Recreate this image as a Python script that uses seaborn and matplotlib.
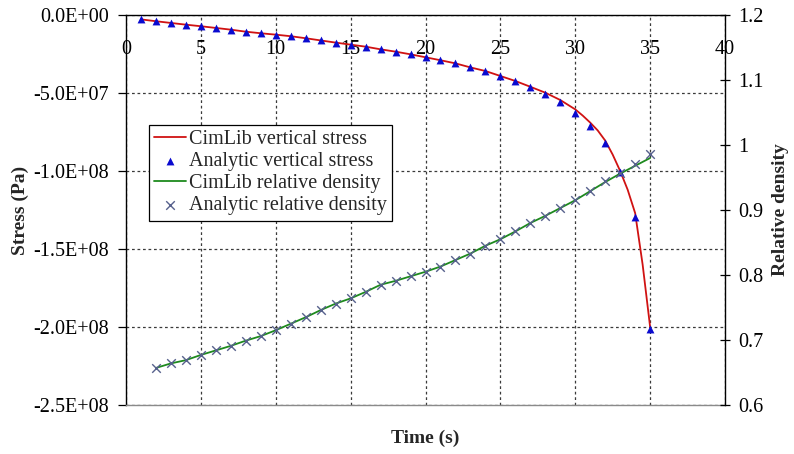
import matplotlib
matplotlib.use("Agg")
import matplotlib.pyplot as plt
import seaborn as sns
import pandas as pd
from matplotlib.ticker import FixedLocator, FuncFormatter

# ---------------- data ----------------
time_stress = [1, 2, 3, 4, 5, 6, 7, 8, 9, 10, 11, 12, 13, 14, 15, 16, 17, 18,
               19, 20, 21, 22, 23, 24, 25, 26, 27, 28, 29, 30, 31, 32, 33, 34, 35]
stress_analytic = [-2.8e6, -4.0e6, -5.1e6, -6.2e6, -7.2e6, -8.3e6, -9.4e6, -1.07e7,
                   -1.17e7, -1.26e7, -1.36e7, -1.49e7, -1.63e7, -1.77e7, -1.90e7,
                   -2.03e7, -2.20e7, -2.35e7, -2.52e7, -2.71e7, -2.90e7, -3.10e7,
                   -3.36e7, -3.59e7, -3.91e7, -4.23e7, -4.63e7, -5.04e7, -5.60e7,
                   -6.26e7, -7.10e7, -8.22e7, -1.005e8, -1.297e8, -2.01e8]

time_cimlib = [1, 2, 3, 4, 5, 6, 7, 8, 9, 10, 11, 12, 13, 14, 15, 16, 17, 18,
               19, 20, 21, 22, 23, 24, 25, 26, 27, 28, 29, 30, 30.5, 31, 31.5, 32,
               32.5, 33, 33.5, 34, 34.5, 35]
stress_cimlib = [-2.8e6, -4.0e6, -5.1e6, -6.2e6, -7.2e6, -8.3e6, -9.4e6, -1.07e7,
                 -1.17e7, -1.26e7, -1.36e7, -1.49e7, -1.63e7, -1.77e7, -1.90e7,
                 -2.03e7, -2.20e7, -2.35e7, -2.52e7, -2.71e7, -2.90e7, -3.10e7,
                 -3.36e7, -3.59e7, -3.91e7, -4.23e7, -4.60e7, -4.98e7, -5.45e7,
                 -6.05e7, -6.45e7, -6.90e7, -7.40e7, -8.05e7, -8.95e7, -1.00e8,
                 -1.12e8, -1.27e8, -1.60e8, -2.00e8]

time_density = [2, 3, 4, 5, 6, 7, 8, 9, 10, 11, 12, 13, 14, 15, 16, 17, 18, 19,
                20, 21, 22, 23, 24, 25, 26, 27, 28, 29, 30, 31, 32, 33, 34, 35]
density_analytic = [0.657, 0.664, 0.669, 0.677, 0.684, 0.691, 0.699, 0.706, 0.715,
                    0.725, 0.735, 0.746, 0.756, 0.764, 0.774, 0.785, 0.791, 0.798,
                    0.805, 0.813, 0.823, 0.833, 0.845, 0.855, 0.867, 0.880, 0.891,
                    0.903, 0.915, 0.929, 0.944, 0.957, 0.971, 0.986]
density_cimlib = [0.657, 0.664, 0.669, 0.677, 0.684, 0.691, 0.699, 0.706, 0.715,
                  0.725, 0.735, 0.746, 0.756, 0.764, 0.774, 0.785, 0.791, 0.798,
                  0.805, 0.813, 0.823, 0.833, 0.845, 0.855, 0.867, 0.880, 0.891,
                  0.903, 0.915, 0.929, 0.943, 0.956, 0.968, 0.980]

x_ticks = [0, 5, 10, 15, 20, 25, 30, 35, 40]
stress_ticks = [0.0, -5e7, -1e8, -1.5e8, -2e8, -2.5e8]
density_ticks = [0.6, 0.7, 0.8, 0.9, 1.0, 1.1, 1.2]

labels = ["CimLib vertical stress", "Analytic vertical stress",
          "CimLib relative density", "Analytic relative density"]

cim_df = pd.DataFrame({"t": time_cimlib, "s": stress_cimlib})
ana_df = pd.DataFrame({"t": time_stress, "s": stress_analytic})
dens_df = pd.DataFrame({"t": time_density, "ana": density_analytic, "cim": density_cimlib})

# ---------------- style ----------------
sns.set_style("white")
plt.rcParams["font.family"] = ["Liberation Serif", "DejaVu Serif"]
plt.rcParams["font.size"] = 14.5

fig = plt.figure(figsize=(7.94, 4.54), dpi=100)
ax = fig.add_axes([126 / 794, 1 - 405 / 454, (725 - 126) / 794, (405 - 15) / 454])
ax2 = ax.twinx()

red = "#D01212"
blue = "#0A0ACF"
green = "#1E8A1E"
xgrey = "#56608C"

sns.lineplot(data=cim_df, x="t", y="s", ax=ax, color=red, linewidth=1.3,
             label=labels[0], zorder=3)
sns.scatterplot(data=ana_df, x="t", y="s", ax=ax, color=blue, marker="^",
                s=32, linewidth=0, label=labels[1], zorder=4)
sns.lineplot(data=dens_df, x="t", y="cim", ax=ax2, color=green, linewidth=1.3,
             label=labels[2], zorder=3)
sns.scatterplot(data=dens_df, x="t", y="ana", ax=ax2, color=xgrey, marker="x",
                s=38, linewidth=1.0, label=labels[3], zorder=4)

for a in (ax, ax2):
    if a.get_legend() is not None:
        a.get_legend().remove()

# ---------------- axes ----------------
ax.set_xlim(0, 40)
ax.set_ylim(-2.5e8, 0)
ax2.set_ylim(0.6, 1.2)

ax.xaxis.set_major_locator(FixedLocator(x_ticks))
ax.xaxis.set_major_formatter(FuncFormatter(lambda v, p: f"{v:g}"))
ax.yaxis.set_major_locator(FixedLocator(stress_ticks))
ax.yaxis.set_major_formatter(FuncFormatter(lambda v, p: f"{v:.1E}"))
ax2.yaxis.set_major_locator(FixedLocator(density_ticks))
ax2.yaxis.set_major_formatter(FuncFormatter(lambda v, p: f"{v:g}"))

ax.tick_params(axis="x", top=True, bottom=False, labeltop=True, labelbottom=False,
               length=0, pad=-31.5, labelsize=14.5, colors="black")
ax.tick_params(axis="y", left=True, direction="out", length=6, width=0.9,
               pad=6.5, labelsize=14.5, colors="black")
ax2.tick_params(axis="y", right=True, direction="inout", length=7.2, width=0.9,
                pad=6, labelsize=14.5, colors="black")

ax.grid(True, which="major", linestyle=(0, (2.2, 2.2)), color="#3a3a3a", linewidth=0.9)
ax2.grid(False)
ax.set_axisbelow(True)

for name in ("left", "top"):
    ax.spines[name].set_color("black")
    ax.spines[name].set_linewidth(1.0)
ax.spines["bottom"].set_color("#8a8a8a")
ax.spines["bottom"].set_linewidth(1.0)
ax.spines["right"].set_visible(False)
for name in ("left", "top", "bottom"):
    ax2.spines[name].set_visible(False)
ax2.spines["right"].set_color("black")
ax2.spines["right"].set_linewidth(1.0)

ax.set_xlabel("Time (s)", fontsize=14, fontweight="bold", labelpad=18)
ax.xaxis.set_label_position("bottom")
ax.set_ylabel("Stress (Pa)", fontsize=14, fontweight="bold", labelpad=3)
ax2.set_ylabel("Relative density", fontsize=14, fontweight="bold", labelpad=6)

# ---------------- legend ----------------
h1, l1 = ax.get_legend_handles_labels()
h2, l2 = ax2.get_legend_handles_labels()
leg = ax2.legend(h1 + h2, l1 + l2, loc="upper left", bbox_to_anchor=(0.038, 0.718),
                 borderaxespad=0, frameon=True, fancybox=False, framealpha=1,
                 edgecolor="black", fontsize=14.5, handlelength=1.6,
                 handletextpad=0.15, labelspacing=0.15, borderpad=0.25)
leg.get_frame().set_linewidth(0.9)

fig.savefig("out.png", dpi=100)
